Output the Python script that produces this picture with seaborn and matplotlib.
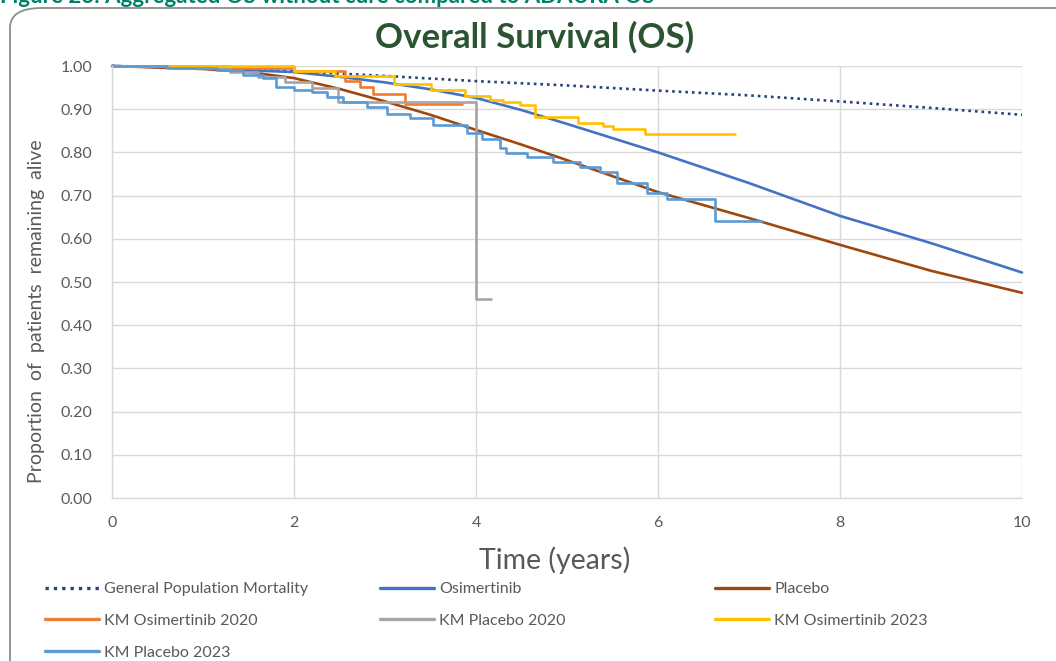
import matplotlib
matplotlib.use("Agg")
import matplotlib.pyplot as plt
from matplotlib.lines import Line2D
from matplotlib.patches import FancyBboxPatch
import seaborn as sns
import pandas as pd

# ---- data -------------------------------------------------------------
years = [0, 1, 2, 3, 4, 5, 6, 7, 8, 9, 10]
gen_pop = [1.000, 0.996, 0.988, 0.977, 0.965, 0.955, 0.943, 0.932, 0.918, 0.903, 0.887]

model_t = [0, 1, 1.5, 2, 2.5, 3, 3.5, 4, 4.5, 5, 6, 7, 8, 9, 10]
osimertinib = [1.000, 0.995, 0.990, 0.986, 0.975, 0.962, 0.946, 0.926, 0.898,
               0.866, 0.800, 0.729, 0.653, 0.590, 0.522]
placebo = [1.000, 0.993, 0.986, 0.972, 0.947, 0.918, 0.887, 0.852, 0.818,
           0.782, 0.708, 0.648, 0.586, 0.526, 0.475]

km_osi20_t = [0, 1.3, 2.0, 2.56, 2.73, 2.87, 3.22, 3.85]
km_osi20_s = [1.000, 0.995, 0.988, 0.965, 0.952, 0.935, 0.912, 0.912]

km_pla20_t = [0, 0.8, 1.3, 1.6, 1.9, 2.2, 2.48, 4.0, 4.17]
km_pla20_s = [1.000, 0.995, 0.985, 0.975, 0.962, 0.950, 0.917, 0.460, 0.460]

km_osi23_t = [0, 2.0, 2.45, 3.1, 3.5, 3.88, 4.15, 4.3, 4.48, 4.65, 5.12, 5.4,
              5.5, 5.86, 6.85]
km_osi23_s = [1.000, 0.988, 0.978, 0.958, 0.944, 0.930, 0.922, 0.917, 0.910,
              0.882, 0.868, 0.862, 0.854, 0.842, 0.842]

km_pla23_t = [0, 0.6, 1.15, 1.44, 1.66, 1.8, 2.0, 2.2, 2.36, 2.54, 2.8, 3.02,
              3.27, 3.53, 3.9, 4.07, 4.26, 4.33, 4.56, 4.85, 5.14, 5.36, 5.55,
              5.88, 6.1, 6.63, 7.14]
km_pla23_s = [1.000, 0.995, 0.990, 0.979, 0.972, 0.952, 0.944, 0.940, 0.928,
              0.917, 0.905, 0.890, 0.879, 0.863, 0.845, 0.832, 0.810, 0.799,
              0.789, 0.778, 0.766, 0.755, 0.729, 0.706, 0.692, 0.641, 0.641]

series_names = ["General Population Mortality", "Osimertinib", "Placebo",
                "KM Osimertinib 2020", "KM Placebo 2020", "KM Osimertinib 2023",
                "KM Placebo 2023"]
y_ticks = [0.0, 0.1, 0.2, 0.3, 0.4, 0.5, 0.6, 0.7, 0.8, 0.9, 1.0]
x_ticks = [0, 2, 4, 6, 8, 10]

# ---- style -------------------------------------------------------------
sns.set_style("white")
plt.rcParams["font.family"] = ["Lato", "DejaVu Sans"]

colors = {
    "General Population Mortality": "#264478",
    "Osimertinib": "#4472C4",
    "Placebo": "#9E480E",
    "KM Osimertinib 2020": "#ED7D31",
    "KM Placebo 2020": "#A5A5A5",
    "KM Osimertinib 2023": "#FFC000",
    "KM Placebo 2023": "#5B9BD5",
}
text_grey = "#595959"
grid_grey = "#D9D9D9"
dotted = (0, (1, 1.5))

W, H = 1056, 661
fig = plt.figure(figsize=(W / 100, H / 100), dpi=100)
ax = fig.add_axes([112 / W, 1 - 498 / H, 910 / W, 432 / H])

# outer chart frame with rounded corners
frame = FancyBboxPatch((10 / W, -0.05), 1.1, 1 - 8 / H + 0.05,
                       boxstyle="round,pad=0,rounding_size=0.03",
                       transform=fig.transFigure, facecolor="none",
                       edgecolor="#8C8C8C", linewidth=1.3, zorder=0)
fig.patches.append(frame)

# figure caption sitting on the top edge
fig.text(0.0, 1 - 3 / H, "Figure 23: Aggregated OS without cure compared to ADAURA OS",
         color="#00806A", fontsize=16, fontweight="bold", ha="left", va="baseline")

lw = 1.9
def draw(t, s, name, steps=False, **kw):
    df = pd.DataFrame({"t": t, "s": s})
    extra = {"drawstyle": "steps-post"} if steps else {}
    sns.lineplot(data=df, x="t", y="s", ax=ax, color=colors[name], linewidth=lw,
                 estimator=None, clip_on=False, **extra, **kw)

draw(years, gen_pop, "General Population Mortality", linestyle=dotted)
draw(model_t, osimertinib, "Osimertinib")
draw(model_t, placebo, "Placebo")
draw(km_osi20_t, km_osi20_s, "KM Osimertinib 2020", steps=True)
draw(km_pla20_t, km_pla20_s, "KM Placebo 2020", steps=True)
draw(km_osi23_t, km_osi23_s, "KM Osimertinib 2023", steps=True)
draw(km_pla23_t, km_pla23_s, "KM Placebo 2023", steps=True)

ax.set_xlim(0, 10)
ax.set_ylim(0, 1)
ax.set_xticks(x_ticks)
ax.set_yticks(y_ticks)
ax.set_yticklabels([f"{v:.2f}" for v in y_ticks])
ax.grid(True, color=grid_grey, linewidth=1.0)
ax.set_axisbelow(True)
for side in ["top", "right"]:
    ax.spines[side].set_visible(False)
for side in ["left", "bottom"]:
    ax.spines[side].set_color(grid_grey)
    ax.spines[side].set_linewidth(1.0)
ax.tick_params(axis="both", length=0, labelsize=11.5, labelcolor=text_grey)
ax.tick_params(axis="x", pad=13)
ax.tick_params(axis="y", pad=14)

ax.set_xlabel("Time (years)", fontsize=20.5, color=text_grey, va="center")
ax.xaxis.set_label_coords((555 - 112) / 910, (498 - 560) / 432)
ax.set_ylabel("Proportion  of  patients  remaining  alive", fontsize=14.0,
              color=text_grey, va="center")
ax.yaxis.set_label_coords((37 - 112) / 910, (498 - 311) / 432)
fig.text(535 / W, 1 - 37 / H, "Overall Survival (OS)", fontsize=25,
         fontweight="bold", color="#2B5530", ha="center", va="center")

# legend: three columns, filled row by row
handles = {}
for name in series_names:
    ls = dotted if name == "General Population Mortality" else "-"
    handles[name] = Line2D([], [], color=colors[name], linewidth=2.4, linestyle=ls)
columns = [(45, [0, 3, 6]), (380, [1, 4]), (715, [2, 5])]
for x0, idx in columns:
    fig.legend([handles[series_names[i]] for i in idx],
               [series_names[i] for i in idx],
               loc="upper left", bbox_to_anchor=(x0 / W, 1 - 582 / H),
               frameon=False, fontsize=11.5, handlelength=3.4, handletextpad=0.3,
               labelspacing=1.1, borderpad=0, borderaxespad=0,
               labelcolor=text_grey)

fig.savefig("out.png", dpi=100)
